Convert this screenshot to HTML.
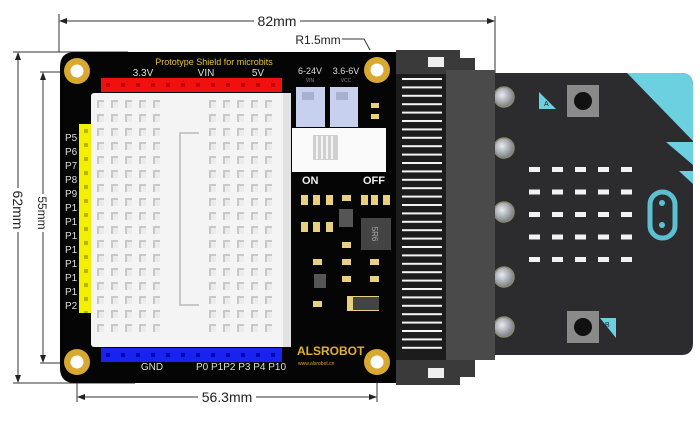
<!DOCTYPE html>
<html><head><meta charset="utf-8"><style>
html,body{margin:0;padding:0;background:#fff;}
svg{display:block;font-family:"Liberation Sans",sans-serif;}
</style></head><body>
<svg width="700" height="428" viewBox="0 0 700 428" xmlns="http://www.w3.org/2000/svg">
<defs>
<pattern id="bh" x="96" y="99" width="14" height="14" patternUnits="userSpaceOnUse">
<rect x="1" y="1" width="7" height="8" fill="#c8c8c8"/><rect x="3" y="3" width="5" height="6" fill="#ececec"/>
</pattern>
<pattern id="led" x="529" y="167" width="23" height="22.5" patternUnits="userSpaceOnUse">
<rect x="0" y="0" width="11" height="5" fill="#f2f2f2"/>
</pattern>
<pattern id="pin" x="400" y="78" width="44" height="8.4" patternUnits="userSpaceOnUse">
<rect x="2" y="0" width="40" height="2" fill="#f4f4f4"/>
</pattern>
<pattern id="hdrR" x="101" y="78" width="15" height="14" patternUnits="userSpaceOnUse">
<rect width="15" height="14" fill="#f01010"/><rect x="5" y="5" width="4" height="4" fill="#c00000"/>
</pattern>
<pattern id="hdrB" x="101" y="348" width="15" height="14" patternUnits="userSpaceOnUse">
<rect width="15" height="14" fill="#1a22f0"/><rect x="5" y="5" width="4" height="4" fill="#0008b0"/>
</pattern>
<pattern id="hdrY" x="79" y="124" width="12" height="14" patternUnits="userSpaceOnUse">
<rect width="12" height="14" fill="#f2f000"/><rect x="5" y="5" width="4" height="4" fill="#b8b400"/>
</pattern>
<radialGradient id="pad" cx="0.4" cy="0.4" r="0.6"><stop offset="0" stop-color="#e8ecf0"/><stop offset="1" stop-color="#7c8088"/></radialGradient>
<marker id="ar" markerWidth="8" markerHeight="6" refX="7" refY="3" orient="auto"><path d="M0,0 L8,3 L0,6z" fill="#222"/></marker>
<marker id="al" markerWidth="8" markerHeight="6" refX="1" refY="3" orient="auto"><path d="M8,0 L0,3 L8,6z" fill="#222"/></marker>
</defs>

<g stroke="#333" stroke-width="1" fill="none">
<line x1="59" y1="14" x2="59" y2="52"/>
<line x1="495" y1="16" x2="495" y2="74"/>
<line x1="60" y1="21" x2="254" y2="21" marker-start="url(#al)"/>
<line x1="300" y1="21" x2="494" y2="21" marker-end="url(#ar)"/>
<line x1="13" y1="52" x2="128" y2="52"/>
<line x1="13" y1="383" x2="135" y2="383"/>
<line x1="18" y1="53" x2="18" y2="188" marker-start="url(#al)"/>
<line x1="18" y1="232" x2="18" y2="382" marker-end="url(#ar)"/>
<line x1="40" y1="72" x2="75" y2="72"/>
<line x1="40" y1="363" x2="75" y2="363"/>
<line x1="43" y1="73" x2="43" y2="194" marker-start="url(#al)"/>
<line x1="43" y1="232" x2="43" y2="362" marker-end="url(#ar)"/>
<line x1="77" y1="362" x2="77" y2="402"/>
<line x1="377" y1="362" x2="377" y2="402"/>
<line x1="78" y1="397" x2="198" y2="397" marker-start="url(#al)"/>
<line x1="256" y1="397" x2="376" y2="397" marker-end="url(#ar)"/>
<polyline points="342,39 364,39 370,50"/>
</g>
<text x="277" y="26" font-size="14" text-anchor="middle" fill="#222">82mm</text>
<text x="318" y="44" font-size="12" text-anchor="middle" fill="#222">R1.5mm</text>
<text x="227" y="402" font-size="14" text-anchor="middle" fill="#222">56.3mm</text>
<text transform="translate(13,210) rotate(90)" font-size="14" text-anchor="middle" fill="#222">62mm</text>
<text transform="translate(38,213) rotate(90)" font-size="12" text-anchor="middle" fill="#222">55mm</text>

<path d="M75,52 H400 V383 H75 Q60,383 60,368 V67 Q60,52 75,52z" fill="#050505"/>
<g fill="#d8a830"><circle cx="77" cy="71" r="13"/><circle cx="377" cy="70" r="13"/><circle cx="77" cy="362" r="13"/><circle cx="377" cy="362" r="13"/></g>
<g fill="#fff"><circle cx="77" cy="71" r="6.5"/><circle cx="377" cy="70" r="6.5"/><circle cx="77" cy="362" r="6.5"/><circle cx="377" cy="362" r="6.5"/></g>
<text x="214" y="65" font-size="9" text-anchor="middle" fill="#e8c040">Prototype Shield for microbits</text>
<g font-size="10" fill="#ddd" text-anchor="middle"><text x="143" y="76">3.3V</text><text x="206" y="76">VIN</text><text x="258" y="76">5V</text>
<text x="152" y="370">GND</text><text x="241" y="370">P0 P1P2 P3 P4 P10</text>
<text x="310" y="74" font-size="9">6-24V</text><text x="346" y="74" font-size="9">3.6-6V</text>
<text x="310" y="82" font-size="5" fill="#888">VIN</text><text x="346" y="82" font-size="5" fill="#888">VCC</text></g>
<rect x="101" y="78" width="181" height="14" fill="url(#hdrR)"/>
<rect x="101" y="348" width="181" height="14" fill="url(#hdrB)"/>
<rect x="79" y="124" width="12" height="189" fill="url(#hdrY)"/>
<g font-size="10" fill="#ddd"><text x="65" y="141">P5</text><text x="65" y="155">P6</text><text x="65" y="169">P7</text><text x="65" y="183">P8</text><text x="65" y="197">P9</text><text x="65" y="211">P1</text><text x="65" y="225">P1</text><text x="65" y="239">P1</text><text x="65" y="253">P1</text><text x="65" y="267">P1</text><text x="65" y="281">P1</text><text x="65" y="295">P1</text><text x="65" y="309">P2</text></g>
<rect x="91" y="93" width="200" height="254" rx="3" fill="#f4f4f4"/>
<rect x="283" y="93" width="8" height="254" fill="#e2e2e2"/>
<rect x="96" y="99" width="70" height="238" fill="url(#bh)"/>
<rect x="209" y="99" width="70" height="238" fill="url(#bh)"/>
<path d="M199,133 H180 V305 H199" stroke="#c8c8c8" stroke-width="2" fill="none"/>

<rect x="296" y="87" width="29" height="40" fill="#c8d0f0"/><rect x="330" y="87" width="28" height="40" fill="#c8d0f0"/>
<rect x="302" y="92" width="12" height="8" fill="#a8b0d0"/><rect x="336" y="92" width="12" height="8" fill="#a8b0d0"/>
<rect x="292" y="128" width="94" height="44" fill="#fafafa"/>
<rect x="313" y="135" width="25" height="25" fill="#d0d0d0"/>
<g stroke="#fff" stroke-width="1.5"><line x1="317" y1="136" x2="317" y2="159"/><line x1="322" y1="136" x2="322" y2="159"/><line x1="327" y1="136" x2="327" y2="159"/><line x1="332" y1="136" x2="332" y2="159"/></g>
<text x="302" y="184" font-size="11" font-weight="bold" fill="#eee">ON</text>
<text x="363" y="184" font-size="11" font-weight="bold" fill="#eee">OFF</text>
<g fill="#e8d080">
<rect x="371" y="103" width="8" height="5"/><rect x="371" y="114" width="8" height="5"/>
<rect x="301" y="195" width="7" height="10"/><rect x="313" y="195" width="7" height="10"/><rect x="326" y="195" width="7" height="10"/>
<rect x="342" y="195" width="9" height="6"/><rect x="361" y="195" width="7" height="10"/><rect x="371" y="195" width="7" height="10"/><rect x="383" y="195" width="7" height="10"/>
<rect x="301" y="222" width="7" height="10"/><rect x="313" y="222" width="7" height="10"/><rect x="326" y="222" width="7" height="10"/>
<rect x="342" y="242" width="9" height="6"/><rect x="313" y="259" width="9" height="6"/><rect x="342" y="259" width="9" height="6"/><rect x="370" y="259" width="9" height="6"/>
<rect x="342" y="276" width="9" height="6"/><rect x="370" y="276" width="9" height="6"/><rect x="313" y="301" width="9" height="6"/>
<rect x="347" y="296" width="32" height="15"/>
</g>
<rect x="361" y="218" width="30" height="32" fill="#444"/>
<text transform="translate(372,234) rotate(90)" font-size="8" fill="#aaa" text-anchor="middle">5R6</text>
<rect x="353" y="297" width="26" height="13" fill="#444"/>
<rect x="314" y="274" width="12" height="14" fill="#555"/>
<rect x="339" y="209" width="14" height="18" fill="#555"/>
<text x="297" y="355" font-size="12" font-weight="bold" fill="#e0b030">ALSROBOT</text>
<text x="298" y="365" font-size="5" fill="#d0a830">www.alsrobot.cn</text>

<path d="M495,73 H681 Q693,73 693,85 V343 Q693,355 681,355 H495z" fill="#2c2c2e"/>
<path d="M627,73 H681 Q693,73 693,85 V141z" fill="#6cd0e0"/>
<path d="M666,142 L693,142 V165z" fill="#6cd0e0"/>
<path d="M679,171 L693,171 V184z" fill="#6cd0e0"/>
<g fill="url(#pad)" stroke="#8a8a70" stroke-width="1.5">
<circle cx="504" cy="97" r="10"/><circle cx="504" cy="148" r="10"/><circle cx="504" cy="212" r="10"/><circle cx="504" cy="277" r="10"/><circle cx="504" cy="327" r="10"/></g>
<rect x="529" y="167" width="115" height="100" fill="url(#led)"/>
<rect x="567" y="85" width="32" height="32" fill="#8a8a8a"/><circle cx="583" cy="101" r="9" fill="#111"/>
<rect x="567" y="311" width="32" height="32" fill="#8a8a8a"/><circle cx="583" cy="327" r="9" fill="#111"/>
<path d="M539,92 L556,109 H539z" fill="#6cd0e0"/><text x="544" y="106" font-size="7" fill="#222">A</text>
<path d="M600,318 L616,318 V338z" fill="#6cd0e0"/><text x="605" y="327" font-size="7" fill="#222">B</text>
<rect x="650" y="192" width="25" height="46" rx="12.5" fill="none" stroke="#5cc0d0" stroke-width="5"/>
<circle cx="662" cy="203" r="3" fill="#5cc0d0"/><circle cx="662" cy="225" r="3" fill="#5cc0d0"/>

<path d="M396,50 H460 V58 H475 V72 H495 V352 H475 V377 H460 V385 H396z" fill="#3a3a3a"/>
<rect x="396" y="74" width="50" height="286" fill="#1c1c1c"/>
<rect x="446" y="70" width="49" height="290" fill="#4a4a4a"/>
<rect x="400" y="78" width="44" height="276" fill="url(#pin)"/>
<rect x="428" y="57" width="16" height="10" fill="#eee"/>
<rect x="428" y="368" width="16" height="10" fill="#eee"/>
</svg>
</body></html>
